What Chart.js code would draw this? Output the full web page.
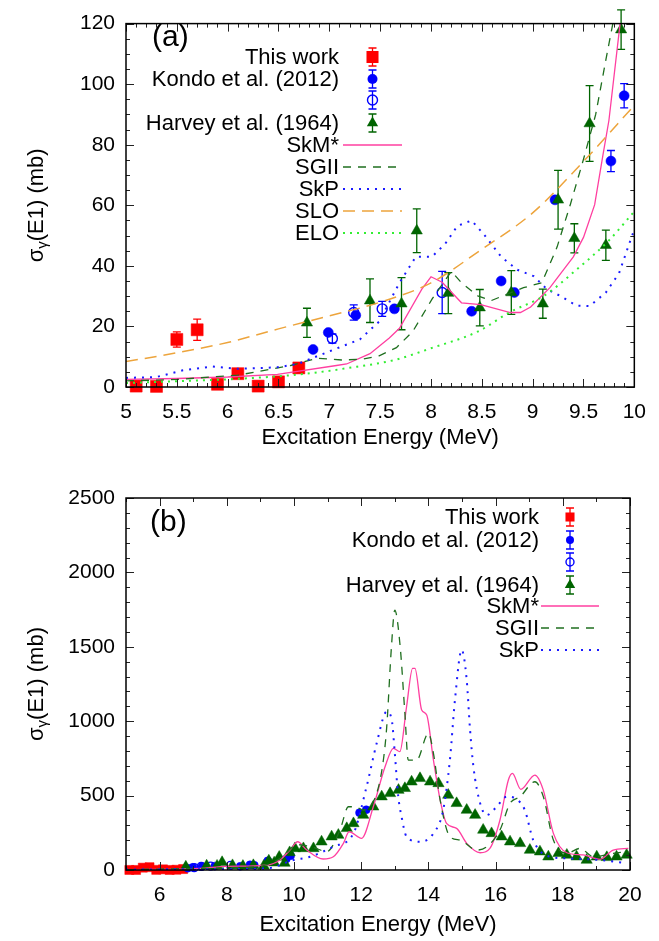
<!DOCTYPE html>
<html>
<head>
<meta charset="utf-8">
<title>E1 cross section</title>
<script src="https://cdn.jsdelivr.net/npm/chart.js@4.4.1/dist/chart.umd.min.js"></script>
<style>
  html, body { margin: 0; padding: 0; background: #fff; }
  canvas { position: absolute; left: 0; }
  #chartA { top: 0; }
  #chartB { top: 470px; }
</style>
</head>
<body>
<canvas id="chartA" width="659" height="470"></canvas>
<canvas id="chartB" width="659" height="471"></canvas>
<script>
const FONT = "'Liberation Sans', Arial, Helvetica, sans-serif";

// --- experimental data ---
// This work
const thisWorkE = [5.10, 5.30, 5.50, 5.70, 5.90, 6.10, 6.30, 6.50, 6.70];
const thisWorkS = [0.3, 0.2, 15.7, 18.9, 0.9, 4.4, 0.3, 1.7, 6.3];
const thisWorkErr = [0, 0, 2.5, 3.5, 0, 0, 0, 0, 0];

// Kondo et al. (2012), filled and open symbols
const kondoE = [6.84, 6.99, 7.26, 7.64, 8.40, 8.69, 8.82, 9.22, 9.77, 9.90];
const kondoS = [12.4, 18.0, 23.7, 25.8, 25.0, 35.0, 31.2, 61.8, 74.6, 96.2];
const kondoErr = [0, 0, 0, 0, 0, 0, 0, 0, 3.5, 4.0];
const kondoOpenE = [7.03, 7.24, 7.52, 8.11];
const kondoOpenS = [16.0, 24.6, 25.8, 31.2];
const kondoOpenErr = [1.5, 2.5, 2.5, 7.0];
const kondoHighE = [11.95, 12.15];
const kondoHighS = [385, 405];

// Harvey et al. (1964)
const harveyE = [6.78, 7.40, 7.71, 7.86, 8.17, 8.48, 8.79, 9.10, 9.25, 9.41, 9.56, 9.72, 9.87];
const harveyS = [21.2, 28.5, 27.5, 51.6, 31.0, 26.2, 31.2, 27.5, 61.8, 49.1, 87.0, 46.8, 118];
const harveyErr = [4.8, 7.2, 8.6, 7.2, 6.8, 6.0, 7.2, 4.8, 9.7, 4.8, 12.5, 5.0, 6.5];
const harveyHighE = [10.03, 10.28, 10.58, 10.82, 11.12, 11.32, 11.57, 11.77, 12.06, 12.36, 12.61, 12.86,
  13.11, 13.30, 13.50, 13.75, 14.05, 14.30, 14.59, 14.84, 15.14, 15.39, 15.63, 15.88, 16.18, 16.43,
  16.73, 17.02, 17.32, 17.57, 17.87, 18.12, 18.41, 18.71, 19.01, 19.31, 19.60, 19.90];
const harveyHighS = [145, 145, 145, 190, 224, 235, 280, 313, 369, 425, 493, 515,
  537, 549, 593, 616, 593, 582, 504, 448, 403, 369, 269, 246, 224, 190,
  179, 134, 123, 89, 112, 101, 89, 67, 89, 85, 89, 101];

// --- calculations, panel (a) ---
const skmAE = [5.0, 5.5, 6.0, 6.49, 7.07, 7.17, 7.40, 7.59, 7.69, 7.91, 8.00, 8.11, 8.30, 8.49, 8.78, 8.88, 8.98, 9.17, 9.40, 9.50, 9.61, 9.69, 9.75, 9.86, 9.95];
const skmAS = [2.5, 2.8, 3.3, 4.2, 7.1, 7.6, 11.0, 16.2, 19.4, 32.3, 36.4, 34.6, 27.8, 27.2, 24.6, 24.6, 26.4, 32.8, 43.0, 49.4, 60.2, 76.3, 88.0, 120, 140];
const sg2AE = [5.0, 5.5, 6.1, 6.62, 6.88, 7.13, 7.33, 7.49, 7.66, 7.82, 8.01, 8.20, 8.30, 8.46, 8.59, 8.91, 9.09, 9.24, 9.37, 9.50, 9.62, 9.72, 9.80, 9.85];
const sg2AS = [2.0, 2.5, 3.9, 7.1, 9.5, 8.9, 9.2, 10.3, 13.0, 18.3, 29.0, 38.2, 34.4, 30.1, 28.5, 32.8, 34.4, 46.2, 60.2, 75.2, 90.0, 108, 122, 130];
const skpAE = [5.0, 5.30, 5.56, 5.85, 6.10, 6.49, 6.69, 7.01, 7.30, 7.49, 7.69, 7.85, 8.01, 8.14, 8.26, 8.40, 8.53, 8.69, 8.85, 9.01, 9.14, 9.27, 9.43, 9.56, 9.72, 9.85, 9.95, 10.0];
const skpAS = [3.0, 3.3, 5.5, 6.8, 6.0, 6.5, 7.6, 11.9, 15.7, 21.6, 34.4, 43.0, 43.0, 47.3, 53.2, 55.0, 50.0, 43.0, 38.7, 36.6, 32.3, 30.1, 26.9, 26.7, 31.2, 37.6, 47.3, 52.0];
const sloAE = [5.0, 5.5, 6.0, 6.5, 7.0, 7.5, 8.0, 8.5, 9.0, 9.5, 10.0];
const sloAS = [8.4, 11.3, 14.7, 19.2, 23.5, 28.0, 34.4, 45.5, 57.5, 74.5, 93.0];
const eloAE = [5.0, 5.5, 6.1, 6.75, 7.17, 7.65, 8.0, 8.46, 8.78, 9.11, 9.43, 9.75, 10.0];
const eloAS = [1.3, 1.9, 2.7, 4.3, 6.2, 9.0, 12.8, 18.3, 24.8, 30.1, 38.7, 48.4, 58.0];

// --- calculations, panel (b) ---
const skmBE = [5.0, 6.0, 7.2, 8.0, 9.19, 9.58, 9.88, 10.11, 10.38, 10.87, 11.17, 11.47, 11.64, 12.01, 12.36, 12.71, 12.96, 13.15, 13.35, 13.53, 13.60, 13.80, 13.95, 14.15, 14.35, 14.54, 14.84, 15.14, 15.54, 15.83, 16.13, 16.38, 16.50, 16.75, 17.17, 17.42, 17.72, 18.12, 18.61, 19.11, 19.50, 19.95];
const skmBS = [2.5, 3.5, 11, 25, 33, 67, 134, 190, 134, 74, 89, 179, 257, 213, 425, 694, 817, 795, 1097, 1355, 1355, 1075, 1041, 739, 470, 313, 280, 179, 116, 145, 336, 605, 649, 542, 638, 537, 246, 116, 101, 72, 134, 145];
const sg2BE = [5.0, 7.2, 9.0, 9.6, 10.1, 10.6, 10.97, 11.37, 11.62, 11.82, 12.06, 12.46, 12.66, 12.76, 12.90, 13.00, 13.16, 13.30, 13.40, 13.65, 14.00, 14.15, 14.35, 14.64, 14.94, 15.44, 15.74, 16.13, 16.43, 16.73, 17.17, 17.42, 17.72, 18.12, 18.51, 18.91, 19.50, 19.95];
const sg2BS = [2, 11, 25, 80, 170, 150, 123, 269, 425, 425, 403, 515, 739, 963, 1500, 1747, 1501, 1053, 739, 739, 918, 784, 470, 224, 201, 134, 157, 269, 448, 493, 593, 493, 201, 112, 145, 89, 112, 123];
const skpBE = [5.0, 7.2, 9.19, 9.98, 10.48, 11.17, 11.77, 12.16, 12.46, 12.76, 12.91, 13.0, 13.10, 13.20, 13.35, 13.75, 14.15, 14.44, 14.64, 14.79, 14.99, 15.14, 15.24, 15.34, 15.54, 15.73, 16.03, 16.33, 16.58, 16.87, 17.12, 17.62, 18.12, 19.11, 19.9];
const skpBS = [3, 5, 11, 67, 89, 157, 246, 560, 851, 1064, 1008, 784, 500, 360, 224, 190, 246, 403, 739, 1142, 1479, 1277, 941, 694, 448, 369, 425, 493, 481, 403, 201, 89, 78, 67, 45];

// --- styles ---
const ST = {
  thisWork: { color: '#ff0000', style: 'rect' },
  kondo: { color: '#0000ff', style: 'circle' },
  kondoOpen: { color: '#0000ff', style: 'circle', open: true },
  harvey: { color: '#006400', style: 'triangle' },
  skm: { color: '#ff3fa0', dash: [] , width: 1.3 },
  sg2: { color: '#1f6f1f', dash: [8, 7], width: 1.3 },
  skp: { color: '#1a1aff', dash: [2, 6], width: 2 },
  slo: { color: '#eda43c', dash: [12, 7], width: 1.5 },
  elo: { color: '#33ee33', dash: [2, 5], width: 2 }
};

function pts(xs, ys) { return xs.map((x, i) => ({ x: x, y: ys[i] })); }

function markerSet(label, s, xs, ys, errs, r, order) {
  return {
    label: label, data: pts(xs, ys), yErr: errs, showLine: false, order: order, clip: false,
    pointStyle: s.style, pointRadius: r,
    pointBackgroundColor: s.open ? 'rgba(0,0,0,0)' : s.color,
    pointBorderColor: s.color, pointBorderWidth: s.open ? 1.4 : 0.5,
    borderColor: s.color
  };
}

function lineSet(label, s, xs, ys, order, smooth) {
  return {
    label: label, data: pts(xs, ys), showLine: true, order: order, pointRadius: 0,
    borderColor: s.color, borderWidth: s.width, borderDash: s.dash, fill: false,
    cubicInterpolationMode: smooth ? 'monotone' : 'default', tension: 0
  };
}

function range(a, b, step) {
  const out = [];
  for (let v = a; v <= b + 1e-9; v += step) out.push(Math.round(v * 1000) / 1000);
  return out;
}

function drawMarker(ctx, s, r, x, y) {
  ctx.beginPath();
  if (s.style === 'rect') {
    const h = r * Math.SQRT1_2;
    ctx.rect(x - h, y - h, 2 * h, 2 * h);
  } else if (s.style === 'circle') {
    ctx.arc(x, y, r, 0, Math.PI * 2);
  } else {
    ctx.moveTo(x, y - r);
    ctx.lineTo(x + 0.866 * r, y + 0.5 * r);
    ctx.lineTo(x - 0.866 * r, y + 0.5 * r);
    ctx.closePath();
  }
  if (s.open) { ctx.lineWidth = 1.4; ctx.strokeStyle = s.color; ctx.stroke(); }
  else { ctx.fillStyle = s.color; ctx.fill(); }
}

// frame, inward ticks, error bars, legend, panel label
function makeGp(cfg) {
  return {
    id: 'gp',
    beforeDatasetDraw(chart, args) {
      const ds = chart.data.datasets[args.index];
      if (!ds.yErr) return;
      const ctx = chart.ctx, xs = chart.scales.x, ys = chart.scales.y;
      ctx.save();
      ctx.strokeStyle = ds.borderColor;
      ctx.lineWidth = 1.3;
      ds.data.forEach((p, i) => {
        const e = ds.yErr[i];
        if (!e) return;
        const px = xs.getPixelForValue(p.x);
        const y1 = ys.getPixelForValue(p.y - e), y2 = ys.getPixelForValue(p.y + e);
        ctx.beginPath();
        ctx.moveTo(px, y1); ctx.lineTo(px, y2);
        ctx.moveTo(px - 4, y1); ctx.lineTo(px + 4, y1);
        ctx.moveTo(px - 4, y2); ctx.lineTo(px + 4, y2);
        ctx.stroke();
      });
      ctx.restore();
    },
    afterDraw(chart) {
      const ctx = chart.ctx, a = chart.chartArea, xs = chart.scales.x, ys = chart.scales.y;
      ctx.save();
      ctx.strokeStyle = '#222';
      ctx.lineWidth = 1;
      ctx.beginPath();
      const tx = (vals, len) => vals.forEach(v => {
        const p = Math.round(xs.getPixelForValue(v)) + 0.5;
        ctx.moveTo(p, a.bottom); ctx.lineTo(p, a.bottom - len);
        ctx.moveTo(p, a.top); ctx.lineTo(p, a.top + len);
      });
      const ty = (vals, len) => vals.forEach(v => {
        const p = Math.round(ys.getPixelForValue(v)) + 0.5;
        ctx.moveTo(a.left, p); ctx.lineTo(a.left + len, p);
        ctx.moveTo(a.right, p); ctx.lineTo(a.right - len, p);
      });
      tx(cfg.xMinor, 4); tx(cfg.xMajor, 8);
      ty(cfg.yMinor, 4); ty(cfg.yMajor, 8);
      ctx.stroke();
      ctx.strokeStyle = '#000';
      ctx.lineWidth = 1.5;
      ctx.strokeRect(a.left, a.top, a.right - a.left, a.bottom - a.top);

      // panel label
      ctx.fillStyle = '#000';
      ctx.font = '30px ' + FONT;
      ctx.textAlign = 'left';
      ctx.textBaseline = 'middle';
      ctx.fillText(cfg.panel, cfg.panelX, cfg.panelY);

      // y title with subscript gamma
      ctx.save();
      ctx.translate(cfg.yTitleX, (a.top + a.bottom) / 2);
      ctx.rotate(-Math.PI / 2);
      const big = '22px ' + FONT, small = '15px ' + FONT;
      ctx.font = big; const w1 = ctx.measureText('\u03C3').width;
      const w3 = ctx.measureText('(E1) (mb)').width;
      ctx.font = small; const w2 = ctx.measureText('\u03B3').width;
      let x0 = -(w1 + w2 + w3) / 2;
      ctx.textAlign = 'left';
      ctx.font = big; ctx.fillText('\u03C3', x0, 0);
      ctx.font = small; ctx.fillText('\u03B3', x0 + w1, 6);
      ctx.font = big; ctx.fillText('(E1) (mb)', x0 + w1 + w2, 0);
      ctx.restore();

      // legend
      const L = cfg.legend;
      L.rows.forEach(row => {
        ctx.save();
        if (row.label) {
          ctx.fillStyle = '#000';
          ctx.font = '22px ' + FONT;
          ctx.textAlign = 'right';
          ctx.textBaseline = 'middle';
          ctx.fillText(row.label, L.textRight, row.y + 1);
        }
        const s = row.s;
        if (s.dash) {
          ctx.strokeStyle = s.color;
          ctx.lineWidth = s.width;
          ctx.setLineDash(s.dash);
          ctx.beginPath();
          ctx.moveTo(L.x1, row.y); ctx.lineTo(L.x2, row.y);
          ctx.stroke();
        } else {
          const xm = (L.x1 + L.x2) / 2;
          ctx.strokeStyle = s.color;
          ctx.lineWidth = 1.3;
          ctx.beginPath();
          ctx.moveTo(xm, row.y - 9); ctx.lineTo(xm, row.y + 9);
          ctx.moveTo(xm - 4, row.y - 9); ctx.lineTo(xm + 4, row.y - 9);
          ctx.moveTo(xm - 4, row.y + 9); ctx.lineTo(xm + 4, row.y + 9);
          ctx.stroke();
          drawMarker(ctx, s, row.r, xm, row.y);
        }
        ctx.restore();
      });
      ctx.restore();
    }
  };
}

function axes(xMin, xMax, xTicks, yMin, yMax, yTicks, xHeight, titlePad) {
  return {
    x: {
      type: 'linear', min: xMin, max: xMax,
      afterBuildTicks: s => { s.ticks = xTicks.map(v => ({ value: v })); },
      afterFit: s => { s.height = xHeight; },
      grid: { display: false, drawTicks: false }, border: { display: false },
      ticks: { color: '#000', font: { family: FONT, size: 21 }, padding: 13, maxRotation: 0, autoSkip: false,
        callback: v => String(v) },
      title: { display: true, text: 'Excitation Energy (MeV)', color: '#000',
        font: { family: FONT, size: 22 }, padding: { top: 0, bottom: titlePad } }
    },
    y: {
      type: 'linear', min: yMin, max: yMax,
      afterBuildTicks: s => { s.ticks = yTicks.map(v => ({ value: v })); },
      afterFit: s => { s.width = 126; },
      grid: { display: false, drawTicks: false }, border: { display: false },
      ticks: { color: '#000', font: { family: FONT, size: 21 }, padding: 11, autoSkip: false,
        callback: v => String(v) }
    }
  };
}

const baseOpts = {
  responsive: false, animation: false, events: [],
  plugins: { legend: { display: false }, tooltip: { enabled: false } }
};

// Panel (a)
new Chart(document.getElementById('chartA'), {
  type: 'scatter',
  data: {
    datasets: [
      markerSet('This work', ST.thisWork, thisWorkE, thisWorkS, thisWorkErr, 8.5, 9),
      markerSet('Kondo et al. (2012)', ST.kondo, kondoE, kondoS, kondoErr, 5, 8),
      markerSet('Kondo et al. (2012) open', ST.kondoOpen, kondoOpenE, kondoOpenS, kondoOpenErr, 5, 7),
      markerSet('Harvey et al. (1964)', ST.harvey, harveyE, harveyS, harveyErr, 6.5, 6),
      lineSet('SkM*', ST.skm, skmAE, skmAS, 5, false),
      lineSet('SGII', ST.sg2, sg2AE, sg2AS, 4, false),
      lineSet('SkP', ST.skp, skpAE, skpAS, 3, false),
      lineSet('SLO', ST.slo, sloAE, sloAS, 2, true),
      lineSet('ELO', ST.elo, eloAE, eloAS, 1, true)
    ]
  },
  options: Object.assign({}, baseOpts, {
    layout: { padding: { top: 14, right: 17, bottom: 0, left: 0 } },
    scales: axes(5, 10, range(5, 10, 0.5), 0, 120, range(0, 120, 20), 83, 19)
  }),
  plugins: [makeGp({
    xMajor: range(5, 10, 0.5), xMinor: range(5, 10, 0.1),
    yMajor: range(0, 120, 20), yMinor: range(0, 120, 5),
    panel: '(a)', panelX: 152, panelY: 38, yTitleX: 37,
    legend: {
      textRight: 339, x1: 343, x2: 402,
      rows: [
        { label: 'This work', s: ST.thisWork, r: 8.5, y: 57 },
        { label: 'Kondo et al. (2012)', s: ST.kondo, r: 5, y: 79 },
        { label: '', s: ST.kondoOpen, r: 5, y: 100 },
        { label: 'Harvey et al. (1964)', s: ST.harvey, r: 6.5, y: 123 },
        { label: 'SkM*', s: ST.skm, y: 145 },
        { label: 'SGII', s: ST.sg2, y: 167 },
        { label: 'SkP', s: ST.skp, y: 189 },
        { label: 'SLO', s: ST.slo, y: 211 },
        { label: 'ELO', s: ST.elo, y: 233 }
      ]
    }
  })]
});

// Panel (b)
new Chart(document.getElementById('chartB'), {
  type: 'scatter',
  data: {
    datasets: [
      markerSet('This work', ST.thisWork, thisWorkE, thisWorkS, null, 6.4, 9),
      markerSet('Kondo et al. (2012)', ST.kondo, kondoE.concat(kondoHighE), kondoS.concat(kondoHighS), null, 4, 8),
      markerSet('Kondo et al. (2012) open', ST.kondoOpen, kondoOpenE, kondoOpenS, null, 4, 7),
      markerSet('Harvey et al. (1964)', ST.harvey, harveyE.concat(harveyHighE), harveyS.concat(harveyHighS), null, 6.5, 6),
      lineSet('SkM*', ST.skm, skmBE, skmBS, 5, true),
      lineSet('SGII', ST.sg2, sg2BE, sg2BS, 4, true),
      lineSet('SkP', ST.skp, skpBE, skpBS, 3, true)
    ]
  },
  options: Object.assign({}, baseOpts, {
    layout: { padding: { top: 28, right: 29, bottom: 0, left: 0 } },
    scales: axes(5, 20, range(6, 20, 2), 0, 2500, range(0, 2500, 500), 71, 3)
  }),
  plugins: [makeGp({
    xMajor: range(6, 20, 2), xMinor: range(5, 20, 1),
    yMajor: range(0, 2500, 500), yMinor: range(0, 2500, 100),
    panel: '(b)', panelX: 150, panelY: 53, yTitleX: 37,
    legend: {
      textRight: 539, x1: 541, x2: 599,
      rows: [
        { label: 'This work', s: ST.thisWork, r: 6.4, y: 47 },
        { label: 'Kondo et al. (2012)', s: ST.kondo, r: 4, y: 70 },
        { label: '', s: ST.kondoOpen, r: 4, y: 92 },
        { label: 'Harvey et al. (1964)', s: ST.harvey, r: 6, y: 115 },
        { label: 'SkM*', s: ST.skm, y: 136 },
        { label: 'SGII', s: ST.sg2, y: 158 },
        { label: 'SkP', s: ST.skp, y: 180 }
      ]
    }
  })]
});
</script>
</body>
</html>
